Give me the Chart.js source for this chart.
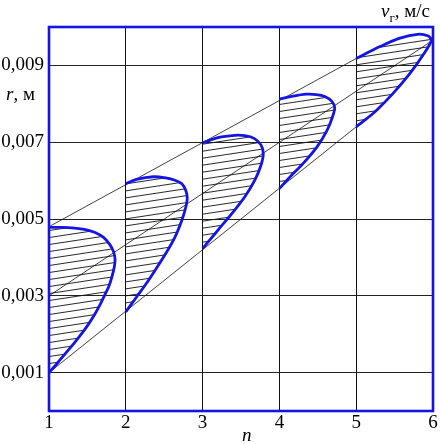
<!DOCTYPE html>
<html>
<head>
<meta charset="utf-8">
<script src="https://cdn.jsdelivr.net/npm/chart.js@4/dist/chart.umd.min.js"></script>
<style>
  html, body { margin: 0; padding: 0; background: #fff; }
  #wrap { width: 440px; height: 444px; }
</style>
</head>
<body>
<div id="wrap"><canvas id="chart"></canvas></div>
<script>
// Axis ticks
const xTicks = [1, 2, 3, 4, 5, 6];
const yTicks = [0.001, 0.003, 0.005, 0.007, 0.009];

// Loops (n, r in metres), bottom point -> curve -> top point
const loop1N = [1.00, 1.11, 1.21, 1.32, 1.42, 1.51, 1.59, 1.66, 1.72, 1.78, 1.82, 1.85, 1.86, 1.84, 1.79, 1.71, 1.60, 1.46, 1.30, 1.15, 1.00];
const loop1R = [0.00100, 0.00125, 0.00149, 0.00175, 0.00200, 0.00225, 0.00250, 0.00275, 0.00300, 0.00325, 0.00350, 0.00375, 0.00395, 0.00415, 0.00434, 0.00452, 0.00465, 0.00473, 0.00477, 0.00478, 0.00478];

const loop2N = [2.00, 2.14, 2.26, 2.38, 2.52, 2.64, 2.73, 2.78, 2.80, 2.78, 2.73, 2.64, 2.52, 2.36, 2.14, 2.00];
const loop2R = [0.00258, 0.00297, 0.00330, 0.00366, 0.00410, 0.00453, 0.00497, 0.00530, 0.00555, 0.00575, 0.00592, 0.00601, 0.00607, 0.00610, 0.00603, 0.00592];

const loop3N = [3.00, 3.10, 3.20, 3.38, 3.55, 3.68, 3.76, 3.79, 3.76, 3.67, 3.55, 3.42, 3.20, 3.00];
const loop3R = [0.00423, 0.00447, 0.00471, 0.00514, 0.00558, 0.00601, 0.00640, 0.00670, 0.00693, 0.00710, 0.00717, 0.00718, 0.00712, 0.00698];

const loop4N = [4.00, 4.14, 4.31, 4.49, 4.62, 4.69, 4.72, 4.68, 4.59, 4.48, 4.35, 4.18, 4.00];
const loop4R = [0.00579, 0.00610, 0.00645, 0.00688, 0.00731, 0.00765, 0.00790, 0.00807, 0.00819, 0.00824, 0.00825, 0.00820, 0.00812];

const loop5N = [5.00, 5.14, 5.27, 5.48, 5.70, 5.87, 5.98, 5.93, 5.80, 5.57, 5.31, 5.00];
const loop5R = [0.00740, 0.00762, 0.00784, 0.00827, 0.00879, 0.00927, 0.00966, 0.00977, 0.00981, 0.00971, 0.00949, 0.00918];

// Straight guide lines
const upperN = [1, 5];
const upperR = [0.0048, 0.00918];
const middleN = [1, 6];
const middleR = [0.0030, 0.00966];
const lowerN = [1, 5];
const lowerR = [0.0010, 0.0074];

const BLUE = '#1414e6';
const FONT = '"Liberation Serif", "Times New Roman", serif';

function pts(xs, ys) {
    return xs.map((x, i) => ({ x: x, y: ys[i] }));
}

// hatch pattern: thin lines rising slightly to the right
function makeHatch() {
    const w = 46, h = 7;
    const c = document.createElement('canvas');
    c.width = w;
    c.height = h;
    const g = c.getContext('2d');
    g.strokeStyle = '#111';
    g.lineWidth = 0.9;
    for (let k = -1; k <= 1; k++) {
        g.beginPath();
        g.moveTo(0, h + k * h);
        g.lineTo(w, k * h);
        g.stroke();
    }
    return g.createPattern(c, 'repeat');
}
const hatch = makeHatch();

function loopSet(xs, ys) {
    return {
        data: pts(xs, ys),
        showLine: true,
        borderColor: BLUE,
        borderWidth: 2.8,
        backgroundColor: hatch,
        fill: 'shape',
        tension: 0.3,
        pointRadius: 0,
        order: 1
    };
}

function guideSet(xs, ys) {
    return {
        data: pts(xs, ys),
        showLine: true,
        borderColor: '#111',
        borderWidth: 0.8,
        fill: false,
        tension: 0,
        pointRadius: 0,
        order: 2
    };
}

// blue frame + axis titles
const framePlugin = {
    id: 'frame',
    afterDatasetsDraw(chart) {
        const a = chart.chartArea;
        const ctx = chart.ctx;
        ctx.save();
        ctx.strokeStyle = BLUE;
        ctx.lineWidth = 2.6;
        ctx.strokeRect(a.left, a.top, a.right - a.left, a.bottom - a.top);
        ctx.restore();
    },
    afterDraw(chart) {
        const a = chart.chartArea;
        const ctx = chart.ctx;
        ctx.save();
        ctx.fillStyle = '#000';
        ctx.textBaseline = 'alphabetic';
        ctx.textAlign = 'left';

        // r, м
        let x = 6, y = a.top + 73;
        ctx.font = 'italic 19px ' + FONT;
        ctx.fillText('r', x, y);
        x += ctx.measureText('r').width;
        ctx.font = '19px ' + FONT;
        ctx.fillText(', м', x, y);

        // n
        ctx.font = 'italic 19px ' + FONT;
        ctx.fillText('n', a.left + 193, 441);

        // v_г, м/с
        x = 381; y = 17;
        ctx.font = 'italic 19px ' + FONT;
        ctx.fillText('v', x, y);
        x += ctx.measureText('v').width;
        ctx.font = '13px ' + FONT;
        ctx.fillText('г', x, y + 5);
        x += ctx.measureText('г').width;
        ctx.font = '19px ' + FONT;
        ctx.fillText(', м/с', x, y);
        ctx.restore();
    }
};

const ctx = document.getElementById('chart').getContext('2d');

const chart = new Chart(ctx, {
    type: 'scatter',
    data: {
        datasets: [
            loopSet(loop1N, loop1R),
            loopSet(loop2N, loop2R),
            loopSet(loop3N, loop3R),
            loopSet(loop4N, loop4R),
            loopSet(loop5N, loop5R),
            guideSet(upperN, upperR),
            guideSet(middleN, middleR),
            guideSet(lowerN, lowerR)
        ]
    },
    options: {
        responsive: true,
        maintainAspectRatio: false,
        animation: false,
        layout: {
            padding: { top: 27, right: 7, left: 0, bottom: 0 }
        },
        plugins: {
            legend: { display: false },
            tooltip: { enabled: false }
        },
        scales: {
            x: {
                type: 'linear',
                min: 1,
                max: 6,
                afterBuildTicks: (s) => { s.ticks = xTicks.map(v => ({ value: v })); },
                afterFit: (s) => { s.height = 33; },
                grid: { color: '#111', lineWidth: 1, drawTicks: false },
                border: { display: false },
                ticks: {
                    color: '#000',
                    padding: 1,
                    maxRotation: 0,
                    autoSkip: false,
                    font: { family: FONT, size: 19 },
                    callback: (v) => String(v)
                }
            },
            y: {
                type: 'linear',
                min: 0,
                max: 0.010,
                afterBuildTicks: (s) => { s.ticks = yTicks.map(v => ({ value: v })); },
                afterFit: (s) => { s.width = 49; },
                grid: { color: '#222', lineWidth: 1, drawTicks: false },
                border: { display: false },
                ticks: {
                    color: '#000',
                    padding: 5,
                    autoSkip: false,
                    font: { family: FONT, size: 19 },
                    callback: (v) => v.toFixed(3).replace('.', ',')
                }
            }
        }
    },
    plugins: [framePlugin]
});
</script>
</body>
</html>
